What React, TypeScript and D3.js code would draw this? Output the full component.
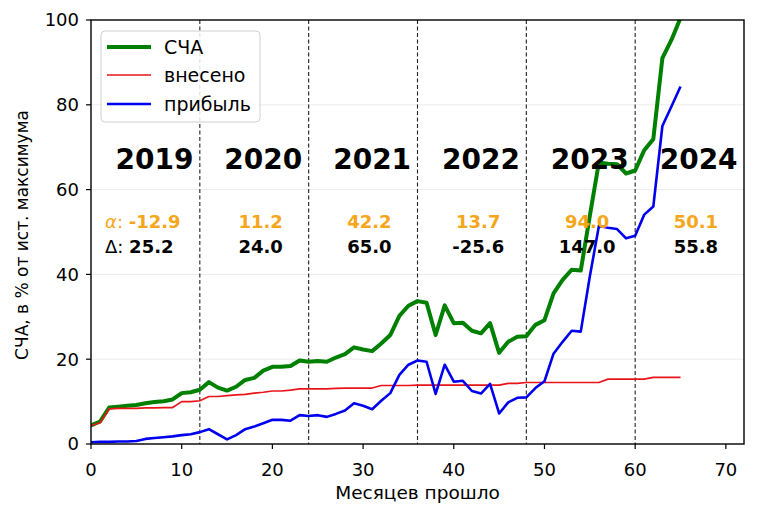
import React from "react";
import * as d3 from "d3";

const navValues = [
  4.4, 5.3, 8.6, 8.8, 9.0, 9.2, 9.6, 9.9, 10.1, 10.5,
  12.0, 12.2, 12.8, 14.6, 13.3, 12.6, 13.5, 15.1, 15.6, 17.3,
  18.2, 18.2, 18.4, 19.7, 19.4, 19.6, 19.4, 20.4, 21.2, 22.8,
  22.3, 21.9, 23.7, 25.7, 30.2, 32.6, 33.7, 33.3, 25.7, 32.7,
  28.5, 28.6, 26.7, 26.1, 28.5, 21.5, 24.1, 25.3, 25.4, 28.1,
  29.2, 35.5, 38.7, 41.1, 40.9, 53.8, 66.4, 66.1, 66.0, 63.8,
  64.5, 69.3, 71.9, 91.0, 95.3, 100.5,
];
const investedValues = [
  4.3, 5.0, 8.3, 8.4, 8.4, 8.4, 8.5, 8.5, 8.6, 8.6,
  10.0, 10.0, 10.2, 11.2, 11.2, 11.4, 11.6, 11.7, 12.0, 12.2,
  12.5, 12.5, 12.7, 13.0, 13.0, 13.0, 13.0, 13.1, 13.2, 13.2,
  13.2, 13.2, 13.8, 13.8, 13.8, 13.8, 13.9, 13.9, 13.9, 13.9,
  13.9, 13.9, 13.9, 13.9, 13.9, 13.9, 14.3, 14.3, 14.5, 14.5,
  14.5, 14.5, 14.5, 14.5, 14.5, 14.5, 14.5, 15.3, 15.3, 15.3,
  15.3, 15.3, 15.7, 15.7, 15.7, 15.7,
];
const profitValues = [
  0.4, 0.5, 0.5, 0.6, 0.6, 0.7, 1.2, 1.4, 1.6, 1.8,
  2.1, 2.3, 2.8, 3.5, 2.3, 1.1, 2.1, 3.5, 4.1, 4.9,
  5.7, 5.7, 5.5, 6.8, 6.6, 6.8, 6.4, 7.1, 7.9, 9.6,
  9.0, 8.2, 10.2, 12.0, 16.3, 18.7, 19.7, 19.4, 11.8, 18.7,
  14.7, 14.9, 12.5, 11.9, 14.2, 7.2, 9.8, 10.9, 11.0, 13.2,
  14.8, 21.3, 24.1, 26.7, 26.5, 39.5, 51.4, 51.0, 50.7, 48.5,
  49.1, 54.1, 56.0, 75.0, 79.6, 84.3,
];

const years = ["2019", "2020", "2021", "2022", "2023", "2024"];
const alphaValues = ["-12.9", "11.2", "42.2", "13.7", "94.0", "50.1"];
const deltaValues = ["25.2", "24.0", "65.0", "-25.6", "147.0", "55.8"];
const yearBoundaries = [12, 24, 36, 48, 60];
const xTicks = [0, 10, 20, 30, 40, 50, 60, 70];
const yTicks = [0, 20, 40, 60, 80, 100];

const W = 758;
const H = 517;
const left = 91;
const right = 744;
const top = 20;
const bottom = 444;
const FONT = "'DejaVu Sans', sans-serif";
const ORANGE = "#f5a61a";

export default function App() {
  const x = d3.scaleLinear().domain([0, 72]).range([left, right]);
  const y = d3.scaleLinear().domain([0, 100]).range([bottom, top]);
  const line = d3
    .line<number>()
    .x((_, i) => x(i))
    .y((d) => y(d));

  return (
    <svg width={W} height={H} style={{ position: "absolute", left: 0, top: 0 }} fontFamily={FONT}>
      <defs>
        <clipPath id="plot">
          <rect x={left} y={top} width={right - left} height={bottom - top} />
        </clipPath>
      </defs>
      <rect x={0} y={0} width={W} height={H} fill="white" />
      {yTicks.slice(1, -1).map((t) => (
        <line key={t} x1={left} x2={right} y1={y(t)} y2={y(t)} stroke="#ebebeb" strokeWidth={1} />
      ))}
      {yearBoundaries.map((b) => (
        <line
          key={b}
          x1={x(b)}
          x2={x(b)}
          y1={top}
          y2={bottom}
          stroke="#222"
          strokeWidth={1.1}
          strokeDasharray="4,2.5"
        />
      ))}
      <g clipPath="url(#plot)">
        <path d={line(navValues) || ""} fill="none" stroke="#008000" strokeWidth={4} strokeLinejoin="round" />
        <path d={line(investedValues) || ""} fill="none" stroke="#e8141a" strokeWidth={1.7} strokeLinejoin="round" />
        <path d={line(profitValues) || ""} fill="none" stroke="#0000ee" strokeWidth={2.6} strokeLinejoin="round" />
      </g>

      {years.map((yr, i) => (
        <text
          key={yr}
          x={x(12 * i + 7)}
          y={y(64.8)}
          textAnchor="middle"
          fontWeight="bold"
          fontSize={28}
          fill="black"
        >
          {yr}
        </text>
      ))}
      {alphaValues.map((a, i) =>
        i === 0 ? (
          <text key={a} x={105} y={y(50.9)} fontSize={18} fill={ORANGE}>
            <tspan fontStyle="italic">α</tspan>
            <tspan>: </tspan>
            <tspan fontWeight="bold">{a}</tspan>
          </text>
        ) : (
          <text key={a} x={x(12 * i + 6.7)} y={y(50.9)} textAnchor="middle" fontSize={18} fontWeight="bold" fill={ORANGE}>
            {a}
          </text>
        )
      )}
      {deltaValues.map((dv, i) =>
        i === 0 ? (
          <text key={dv} x={105} y={y(45.0)} fontSize={18} fill="black">
            <tspan>Δ: </tspan>
            <tspan fontWeight="bold">{dv}</tspan>
          </text>
        ) : (
          <text key={dv} x={x(12 * i + 6.7)} y={y(45.0)} textAnchor="middle" fontSize={18} fontWeight="bold" fill="black">
            {dv}
          </text>
        )
      )}

      <rect x={left} y={top} width={right - left} height={bottom - top} fill="none" stroke="black" strokeWidth={1.4} />

      {xTicks.map((t) => (
        <g key={t}>
          <line x1={x(t)} x2={x(t)} y1={bottom} y2={bottom + 5} stroke="black" strokeWidth={1.2} />
          <text x={x(t)} y={476} textAnchor="middle" fontSize={18} fill="black">
            {t}
          </text>
        </g>
      ))}
      {yTicks.map((t) => (
        <g key={t}>
          <line x1={left - 5} x2={left} y1={y(t)} y2={y(t)} stroke="black" strokeWidth={1.2} />
          <text x={left - 12} y={y(t)} dy="0.36em" textAnchor="end" fontSize={18} fill="black">
            {t}
          </text>
        </g>
      ))}
      <text x={(left + right) / 2} y={499} textAnchor="middle" fontSize={18.5} fill="black">
        Месяцев прошло
      </text>
      <text
        transform={`translate(28, ${(top + bottom) / 2 + 3}) rotate(-90)`}
        textAnchor="middle"
        fontSize={17}
        fill="black"
      >
        СЧА, в % от ист. максимума
      </text>

      <g>
        <rect x={101} y={31} width={159} height={91} rx={4} fill="white" fillOpacity={0.85} stroke="#d0d0d0" strokeWidth={1} />
        <line x1={107} x2={151} y1={47} y2={47} stroke="#008000" strokeWidth={4} />
        <line x1={107} x2={151} y1={75} y2={75} stroke="#e8141a" strokeWidth={1.7} />
        <line x1={107} x2={151} y1={104} y2={104} stroke="#0000ee" strokeWidth={2.6} />
        <text x={164} y={47} dy="0.35em" fontSize={19} fill="black">СЧА</text>
        <text x={164} y={75} dy="0.35em" fontSize={19} fill="black">внесено</text>
        <text x={164} y={104} dy="0.35em" fontSize={19} fill="black">прибыль</text>
      </g>
    </svg>
  );
}
